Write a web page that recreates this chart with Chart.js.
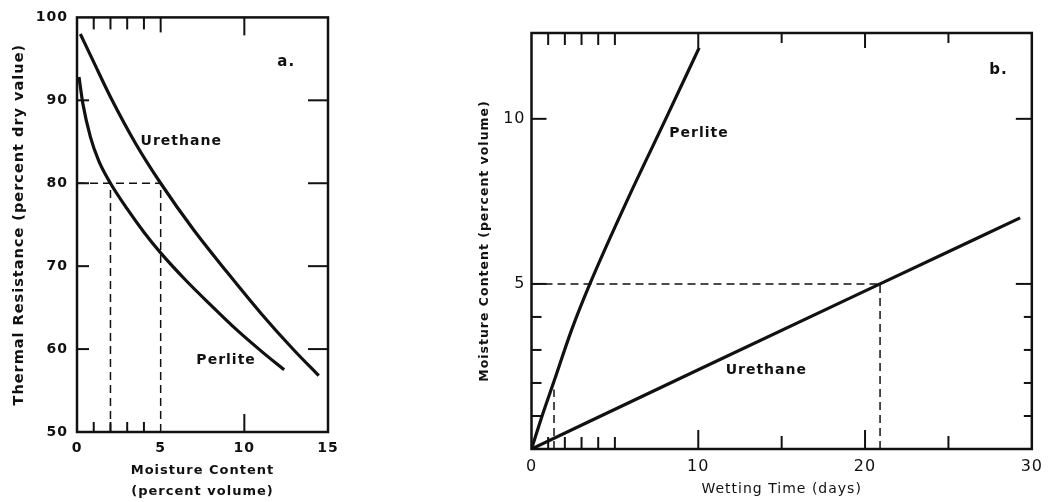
<!DOCTYPE html>
<html>
<head>
<meta charset="utf-8">
<script src="https://cdn.jsdelivr.net/npm/chart.js@4.4.1/dist/chart.umd.min.js"></script>
<style>
  html, body { margin: 0; padding: 0; background: #fff; }
  body { width: 1050px; height: 502px; position: relative; overflow: hidden; }
  canvas { position: absolute; top: 0; }
  #chartA { left: 0; }
  #chartB { left: 420px; }
</style>
</head>
<body>
<canvas id="chartA" width="350" height="502"></canvas>
<canvas id="chartB" width="630" height="502"></canvas>
<script>
// --- panel a: thermal resistance vs moisture content
const aUrethaneX = [0.2, 1, 2, 3.5, 5, 7, 9, 11, 13, 14.45];
const aUrethaneY = [98, 94.6, 90.4, 84.8, 80, 74.3, 69.2, 64.3, 59.8, 56.8];
const aPerliteX = [0.12, 0.35, 0.8, 1.3, 2, 3, 4, 5, 6.5, 8, 9.5, 11.1, 12.38];
const aPerliteY = [92.8, 89.6, 85.6, 82.7, 80, 76.9, 74.1, 71.6, 68.3, 65.3, 62.4, 59.6, 57.5];
const aGuides = [[[0, 80], [5, 80]], [[2, 50], [2, 80]], [[5, 50], [5, 80]]];
const aXTicks = [0, 5, 10, 15];
const aYTicks = [50, 60, 70, 80, 90, 100];
const aMinorX = [1, 2, 3, 4];
const aMidX = [5];
const aMajorX = [10];
const aMarksY = [60, 70, 80, 90];

// --- panel b: moisture content vs wetting time
const bPerliteX = [0, 0.6, 1.35, 2.4, 3.5, 5.8, 8.1, 10.05];
const bPerliteY = [0, 0.95, 2.05, 3.6, 5, 7.6, 10.05, 12.15];
const bUrethaneX = [0, 10, 20.9, 29.3];
const bUrethaneY = [0, 2.4, 5, 7.0];
const bGuides = [[[0, 5], [20.9, 5]], [[20.9, 0], [20.9, 5]], [[1.35, 0], [1.35, 1.8]]];
const bXTicks = [0, 10, 20, 30];
const bYTicks = [5, 10];
const bMinorX = [1, 2, 3, 4, 5];
const bMidX = [15, 25];
const bMajorX = [10, 20];
const bMinorY = [1, 2, 3, 4];
const bMajorY = [5, 10];

const INK = '#111';
const pts = (xs, ys) => xs.map((x, i) => ({ x, y: ys[i] }));

const curve = (xs, ys) => ({
  data: pts(xs, ys), borderColor: INK, borderWidth: 3.2, pointRadius: 0,
  cubicInterpolationMode: 'monotone', fill: false
});
const guide = (seg) => ({
  data: seg.map(p => ({ x: p[0], y: p[1] })), borderColor: INK, borderWidth: 1.5,
  borderDash: [8, 5], pointRadius: 0, fill: false
});

// frame round the plot area plus inward tick marks
const frameTicks = {
  id: 'frameTicks',
  afterDatasetsDraw(chart, args, opts) {
    const { ctx, chartArea: a, scales: { x, y } } = chart;
    ctx.save();
    ctx.strokeStyle = INK;
    ctx.lineWidth = 2.5;
    ctx.strokeRect(a.left, a.top, a.right - a.left, a.bottom - a.top);
    ctx.lineWidth = 2;
    for (const m of opts.marks) {
      for (const v of m.values) {
        ctx.beginPath();
        if (m.side === 'bottom' || m.side === 'top') {
          const px = x.getPixelForValue(v);
          const y0 = m.side === 'bottom' ? a.bottom : a.top;
          const dir = m.side === 'bottom' ? -1 : 1;
          ctx.moveTo(px, y0); ctx.lineTo(px, y0 + dir * m.len);
        } else {
          const py = y.getPixelForValue(v);
          const x0 = m.side === 'left' ? a.left : a.right;
          const dir = m.side === 'left' ? 1 : -1;
          ctx.moveTo(x0, py); ctx.lineTo(x0 + dir * m.len, py);
        }
        ctx.stroke();
      }
    }
    ctx.restore();
  }
};

// text labels placed in data units
const notes = {
  id: 'notes',
  afterDatasetsDraw(chart, args, opts) {
    const { ctx, scales: { x, y } } = chart;
    ctx.save();
    ctx.fillStyle = INK;
    ctx.textAlign = 'center';
    ctx.textBaseline = 'middle';
    for (const n of opts.items) {
      ctx.font = n.font;
      ctx.fillText(n.text, x.getPixelForValue(n.x), y.getPixelForValue(n.y));
    }
    ctx.restore();
  }
};

const spacing = {
  id: 'spacing',
  beforeDraw(chart) { chart.ctx.letterSpacing = '1px'; }
};

const fixTicks = (vals) => (s) => { s.ticks = vals.map(v => ({ value: v })); };

new Chart(document.getElementById('chartA'), {
  type: 'line',
  data: { datasets: [...aGuides.map(guide), curve(aUrethaneX, aUrethaneY), curve(aPerliteX, aPerliteY)] },
  options: {
    responsive: false, animation: false, events: [],
    layout: { padding: { left: 0, top: 15, right: 22, bottom: 0 } },
    plugins: {
      legend: { display: false }, tooltip: { enabled: false },
      frameTicks: { marks: [
        { side: 'top', values: aMinorX, len: 12 },
        { side: 'top', values: aMidX, len: 15 },
        { side: 'top', values: aMajorX, len: 18 },
        { side: 'bottom', values: aMinorX, len: 10 },
        { side: 'bottom', values: aMajorX, len: 18 },
        { side: 'left', values: aMarksY, len: 12 },
        { side: 'right', values: aMarksY, len: 20 }
      ] },
      notes: { items: [
        { text: 'Urethane', x: 6.23, y: 85.0, font: 'bold 14px "DejaVu Sans"' },
        { text: 'Perlite', x: 8.91, y: 58.7, font: 'bold 14px "DejaVu Sans"' },
        { text: 'a.', x: 12.5, y: 94.6, font: 'bold 15px "DejaVu Sans"' }
      ] }
    },
    scales: {
      x: {
        type: 'linear', min: 0, max: 15,
        grid: { display: false, drawTicks: false }, border: { display: false },
        afterBuildTicks: fixTicks(aXTicks),
        afterFit: (s) => { s.height = 70; },
        ticks: { padding: 8, autoSkip: false, maxRotation: 0, color: INK, font: { family: 'DejaVu Sans', size: 14, weight: 'bold' } },
        title: { display: true, text: ['Moisture Content', '(percent volume)'], color: INK,
          font: { family: 'DejaVu Sans', size: 13, weight: 'bold', lineHeight: 1.6 }, padding: { top: 0, bottom: 0 } }
      },
      y: {
        type: 'linear', min: 50, max: 100,
        grid: { display: false, drawTicks: false }, border: { display: false },
        afterBuildTicks: fixTicks(aYTicks),
        afterFit: (s) => { s.width = 77; },
        ticks: { padding: 9, autoSkip: false, color: INK, font: { family: 'DejaVu Sans', size: 14, weight: 'bold' } },
        title: { display: true, text: 'Thermal Resistance (percent dry value)', color: INK,
          font: { family: 'DejaVu Sans', size: 14.5, weight: 'bold' }, padding: { top: 11, bottom: 0 } }
      }
    }
  },
  plugins: [spacing, frameTicks, notes]
});

new Chart(document.getElementById('chartB'), {
  type: 'line',
  data: { datasets: [...bGuides.map(guide), curve(bPerliteX, bPerliteY), curve(bUrethaneX, bUrethaneY)] },
  options: {
    responsive: false, animation: false, events: [],
    layout: { padding: { left: 0, top: 33, right: 17, bottom: 0 } },
    plugins: {
      legend: { display: false }, tooltip: { enabled: false },
      frameTicks: { marks: [
        { side: 'top', values: bMinorX, len: 12 },
        { side: 'top', values: bMidX, len: 10 },
        { side: 'top', values: bMajorX, len: 15 },
        { side: 'bottom', values: bMinorX, len: 12 },
        { side: 'bottom', values: bMidX, len: 13 },
        { side: 'bottom', values: bMajorX, len: 19 },
        { side: 'left', values: bMinorY, len: 10 },
        { side: 'left', values: bMajorY, len: 15 },
        { side: 'right', values: bMinorY, len: 8 },
        { side: 'right', values: bMajorY, len: 16 }
      ] },
      notes: { items: [
        { text: 'Perlite', x: 10.04, y: 9.56, font: 'bold 14px "DejaVu Sans"' },
        { text: 'Urethane', x: 14.08, y: 2.39, font: 'bold 14px "DejaVu Sans"' },
        { text: 'b.', x: 28.0, y: 11.48, font: 'bold 15px "DejaVu Sans"' }
      ] }
    },
    scales: {
      x: {
        type: 'linear', min: 0, max: 30,
        grid: { display: false, drawTicks: false }, border: { display: false },
        afterBuildTicks: fixTicks(bXTicks),
        afterFit: (s) => { s.height = 53; },
        ticks: { padding: 8, autoSkip: false, maxRotation: 0, color: INK, font: { family: 'DejaVu Sans', size: 16 } },
        title: { display: true, text: 'Wetting Time (days)', color: INK,
          font: { family: 'DejaVu Sans', size: 14 }, padding: { top: 0, bottom: 4 } }
      },
      y: {
        type: 'linear', min: 0, max: 12.6,
        grid: { display: false, drawTicks: false }, border: { display: false },
        afterBuildTicks: fixTicks(bYTicks),
        afterFit: (s) => { s.width = 111.5; },
        ticks: { padding: 6, autoSkip: false, color: INK, font: { family: 'DejaVu Sans', size: 16 } },
        title: { display: true, text: 'Moisture Content (percent volume)', color: INK,
          font: { family: 'DejaVu Sans', size: 12.5, weight: 'bold' }, padding: { top: 57, bottom: 0 } }
      }
    }
  },
  plugins: [spacing, frameTicks, notes]
});
</script>
</body>
</html>
